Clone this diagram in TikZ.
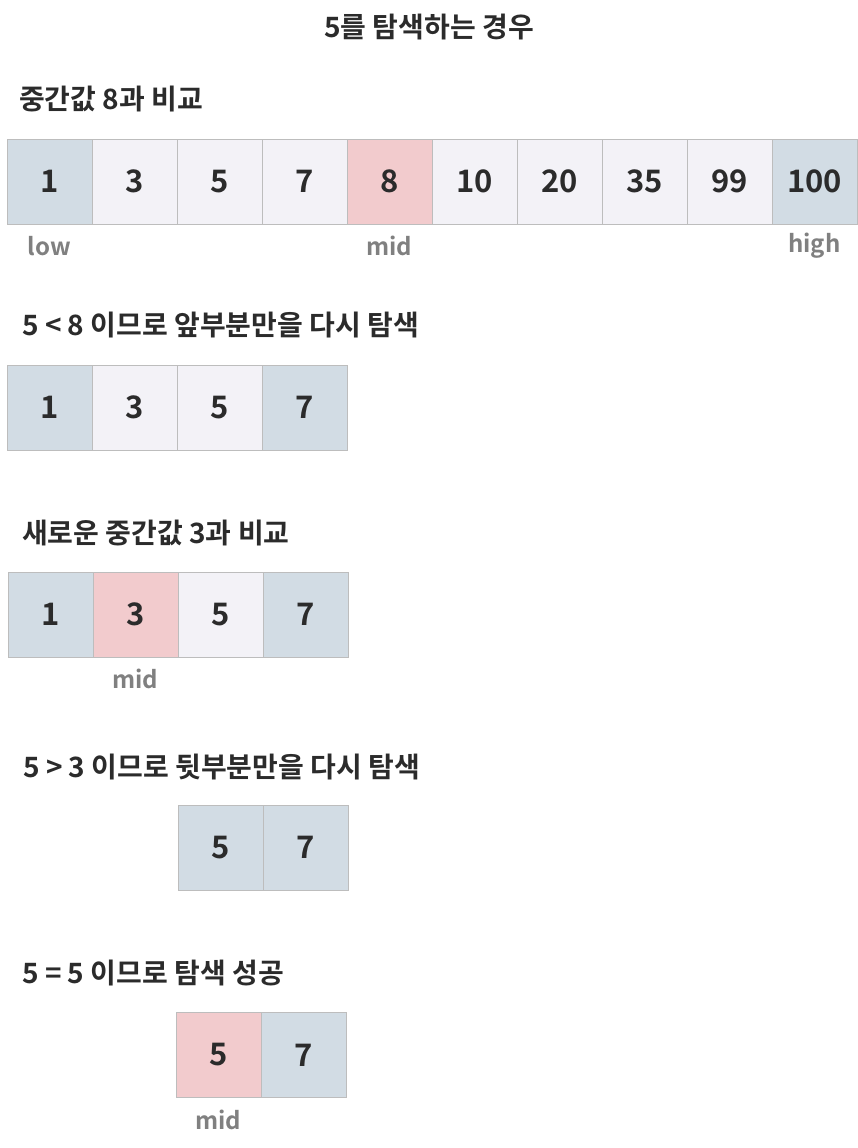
\documentclass[tikz,border=0pt]{standalone}
\usepackage{fontspec}
\setmainfont{Noto Sans CJK KR}[BoldFont={Noto Sans CJK KR Bold}]
\usetikzlibrary{positioning}
\definecolor{ink}{HTML}{2B2B2B}
\definecolor{markgray}{HTML}{808080}
\definecolor{cellline}{HTML}{BDBDBD}
\definecolor{endblue}{HTML}{D2DCE4}
\definecolor{midpink}{HTML}{F2CBCD}
\definecolor{restgray}{HTML}{F3F2F7}
\newcommand{\cellfont}{\fontsize{31}{31}\selectfont\bfseries}
\newcommand{\headfont}{\fontsize{28}{28}\selectfont\bfseries}
\newcommand{\markfont}{\fontsize{24}{24}\selectfont\bfseries}

\tikzset{
 cell/.style={draw=cellline,line width=1pt,minimum width=85pt,minimum height=85pt,
   inner sep=0pt,outer sep=0pt,font=\cellfont,text=ink},
 endcell/.style={cell,fill=endblue},
 midcell/.style={cell,fill=midpink},
 restcell/.style={cell,fill=restgray},
 heading/.style={anchor=west,inner sep=0pt,font=\headfont,text=ink},
 marker/.style={inner sep=0pt,font=\markfont,text=markgray}
}

\begin{document}
\begin{tikzpicture}[x=1pt,y=-1pt]
 \fill[white] (0,0) rectangle (858,1148);
 \node[inner sep=0pt,font=\headfont,text=ink] (title) at (429,27) {5를 탐색하는 경우};

 % step 1: whole array
 \node[heading] (head1) at (19,99) {중간값 8과 비교};
 \foreach \v/\s [count=\i] in {1/endcell,3/restcell,5/restcell,7/restcell,8/midcell,
   10/restcell,20/restcell,35/restcell,99/restcell,100/endcell}
   \node[\s] (a\i) at ({7+42.5+85*(\i-1)},181.5) {\v};
 \node[marker] (low) at ([yshift=-22pt]a1.south) {low};
 \node[marker] (mid1) at ([yshift=-22pt]a5.south) {mid};
 \node[marker] (high) at ([yshift=-22pt]a10.south) {high};

 % step 2: front half
 \node[heading] (head2) at (22,325) {5 < 8 이므로 앞부분만을 다시 탐색};
 \foreach \v/\s [count=\i] in {1/endcell,3/restcell,5/restcell,7/endcell}
   \node[\s] (b\i) at ({7+42.5+85*(\i-1)},407.5) {\v};

 % step 3: new mid
 \node[heading] (head3) at (22,533) {새로운 중간값 3과 비교};
 \foreach \v/\s [count=\i] in {1/endcell,3/midcell,5/restcell,7/endcell}
   \node[\s] (c\i) at ({8+42.5+85*(\i-1)},614.5) {\v};
 \node[marker] (mid3) at ([yshift=-22pt]c2.south) {mid};

 % step 4: back half
 \node[heading] (head4) at (23,767) {5 > 3 이므로 뒷부분만을 다시 탐색};
 \node[endcell] (d1) at (220.5,847.5) {5};
 \node[endcell,right=0pt of d1] (d2) {7};

 % step 5: found
 \node[heading] (head5) at (22,973) {5 = 5 이므로 탐색 성공};
 \node[midcell] (e1) at (218.5,1055) {5};
 \node[endcell,right=0pt of e1] (e2) {7};
 \node[marker] (mid5) at ([yshift=-22pt]e1.south) {mid};
\end{tikzpicture}
\end{document}
